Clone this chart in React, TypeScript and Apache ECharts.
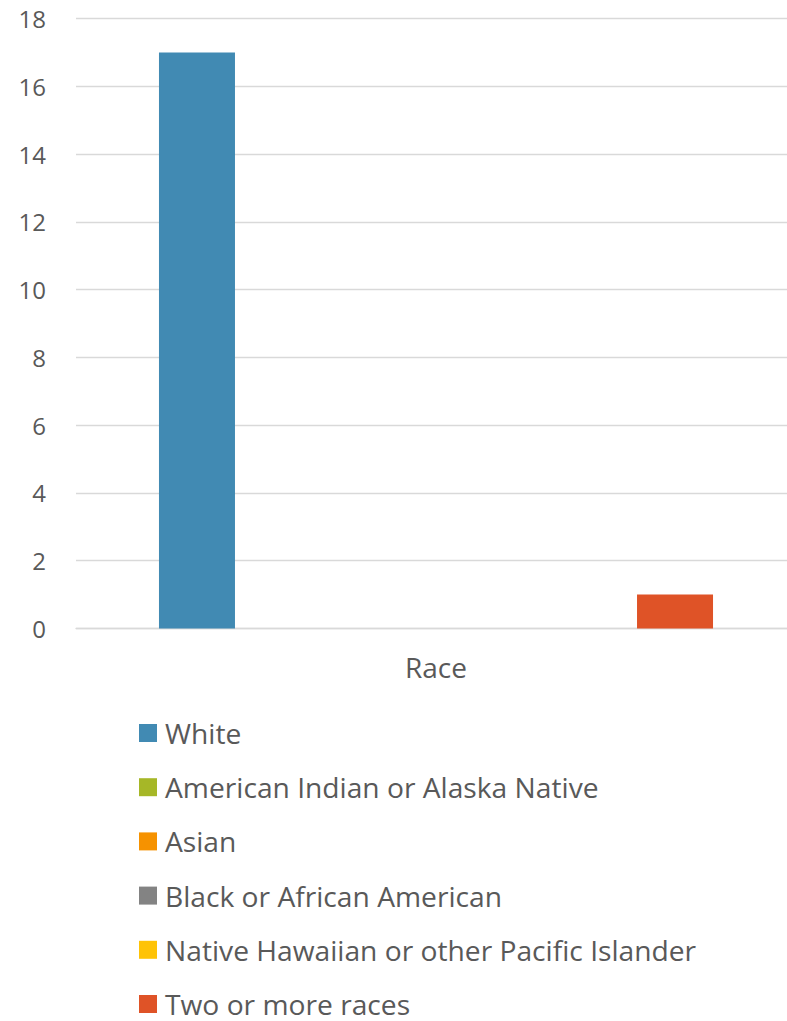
import React, { useEffect, useRef } from "react";
import * as echarts from "echarts";

const categories = ["Race"];
const seriesNames = [
  "White",
  "American Indian or Alaska Native",
  "Asian",
  "Black or African American",
  "Native Hawaiian or other Pacific Islander",
  "Two or more races",
];
const seriesValues = [17, 0, 0, 0, 0, 1];
const seriesColors = ["#418AB3", "#A6B727", "#F69200", "#838383", "#FEC306", "#DF5327"];
const yTicks = { min: 0, max: 18, interval: 2 };

const FONT = "'Open Sans', Lato, sans-serif";
const TEXT = "#595959";

export default function App() {
  const ref = useRef<HTMLDivElement>(null);
  useEffect(() => {
    if (!ref.current) return;
    const chart = echarts.init(ref.current, undefined, { renderer: "svg" });
    chart.setOption({
      animation: false,
      textStyle: { fontFamily: FONT },
      grid: { left: 76, top: 18.5, width: 720, height: 610, containLabel: false },
      legend: {
        orient: "vertical",
        left: 139,
        top: 719,
        padding: 0,
        itemWidth: 18,
        itemHeight: 18,
        itemGap: 26.2,
        icon: "rect",
        textStyle: { fontFamily: FONT, fontSize: 28.2, color: TEXT, lineHeight: 26, padding: [0, 0, 0, 3] },
        data: seriesNames,
      },
      xAxis: {
        type: "category",
        data: categories,
        axisLine: { show: true, lineStyle: { color: "#D9D9D9", width: 1.3 } },
        axisTick: { show: false },
        axisLabel: { fontFamily: FONT, fontSize: 28, color: TEXT, margin: 24 },
      },
      yAxis: {
        type: "value",
        min: yTicks.min,
        max: yTicks.max,
        interval: yTicks.interval,
        axisLine: { show: false },
        axisTick: { show: false },
        axisLabel: { fontFamily: FONT, fontSize: 24, color: TEXT, margin: 30 },
        splitLine: { lineStyle: { color: "#D9D9D9", width: 1.3 } },
      },
      series: seriesNames.map((name, i) => ({
        name,
        type: "bar",
        data: [seriesValues[i]],
        barWidth: 76,
        barGap: "25.8%",
        itemStyle: { color: seriesColors[i] },
      })),
    });
    return () => chart.dispose();
  }, []);
  return (
    <div style={{ position: "fixed", left: 0, top: 0, width: 787, height: 1021, overflow: "hidden", background: "#fff" }}>
      <div ref={ref} style={{ width: 800, height: 1200 }} />
    </div>
  );
}
